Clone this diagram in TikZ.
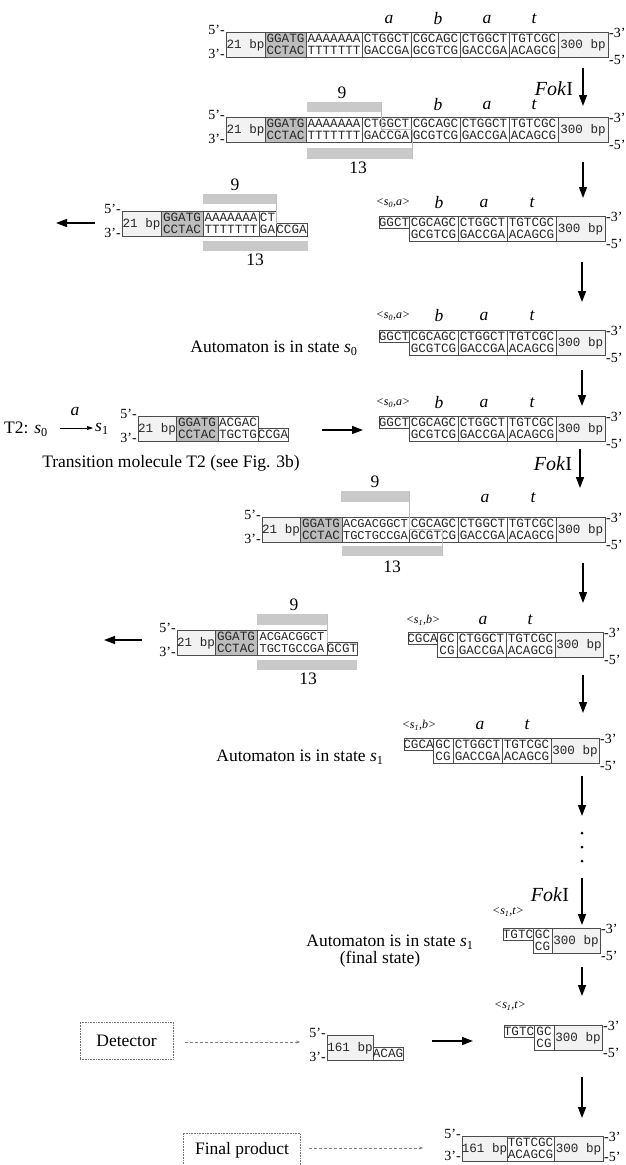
\documentclass[tikz,border=0pt]{standalone}
\usepackage{fontspec}
\setmainfont{Liberation Serif}
\newfontfamily\mono{Liberation Mono}
\usetikzlibrary{arrows.meta}
\definecolor{lg}{gray}{0.95}
\definecolor{dg}{gray}{0.74}
\definecolor{barc}{gray}{0.79}
\tikzset{
 cellb/.style={draw=black!70, line width=0.6pt},
 seq/.style={font=\mono\fontsize{12.6}{12}\selectfont, inner sep=0pt, anchor=base, text=black!85},
 seqs/.style={font=\mono\fontsize{12}{12}\selectfont, inner sep=0pt, anchor=base, text=black!85},
 lab/.style={font=\fontsize{17.5}{19}\selectfont, inner sep=0pt},
 sym/.style={font=\itshape\fontsize{17.5}{19}\selectfont, inner sep=0pt},
 stl/.style={font=\itshape\fontsize{12}{12}\selectfont, inner sep=0pt},
 endl/.style={font=\fontsize{14}{14}\selectfont, inner sep=0pt},
 fokl/.style={font=\fontsize{20}{22}\selectfont, inner sep=0pt},
 bigarr/.style={line width=1.5pt, -{Triangle[length=11pt,width=8pt]}},
 dotarr/.style={black!50, line width=0.5pt, densely dashed, -{Stealth[length=4pt,width=3pt]}},
 barf/.style={fill=barc, draw=none},
 thinl/.style={draw=black!25, line width=0.5pt},
 dbox/.style={draw=black!55, densely dotted, line width=0.6pt}
}
\newcommand\dc[6]{%
 \draw[cellb,fill=#4] (#1,#3) rectangle (#2,#3+25);
 \node[seq] at ({(#1+#2)/2},#3+10.5) {#5};
 \node[seq] at ({(#1+#2)/2},#3+22.5) {#6};}
\newcommand\dcs[6]{%
 \draw[cellb,fill=#4] (#1,#3) rectangle (#2,#3+25);
 \node[seqs] at ({(#1+#2)/2},#3+10.5) {#5};
 \node[seqs] at ({(#1+#2)/2},#3+22.5) {#6};}
\newcommand\bc[4]{%
 \draw[cellb,fill=lg] (#1,#3) rectangle (#2,#3+25);
 \node[seq] at ({(#1+#2)/2},#3+16.5) {#4};}
\newcommand\tc[4]{%
 \draw[cellb,fill=white] (#1,#3) rectangle (#2,#3+12.5);
 \node[seq] at ({(#1+#2)/2},#3+10.5) {#4};}
\newcommand\bhc[4]{%
 \draw[cellb,fill=white] (#1,#3+12.5) rectangle (#2,#3+25);
 \node[seq] at ({(#1+#2)/2},#3+22.5) {#4};}
\newcommand\lends[2]{% x y(top)
 \node[endl,anchor=east] at (#1-1,#2-2) {5'-};
 \node[endl,anchor=east] at (#1-1,#2+22) {3'-};}
\newcommand\rends[2]{%
 \node[endl,anchor=west] at (#1+1,#2+1) {-3'};
 \node[endl,anchor=west] at (#1+1,#2+28) {-5'};}
\newcommand\stt[2]{\textit{#1}\textsubscript{#2}}
\newcommand\fok{\textit{Fok}I}
\begin{document}
\begin{tikzpicture}[x=1pt,y=-1pt]
\clip (0,0) rectangle (626,1165);
\fill[white] (0,0) rectangle (626,1165);

% ---------- Row 1
\bc{226}{265}{32}{21 bp}
\dc{265}{306}{32}{dg}{GGATG}{CCTAC}
\dc{306}{362}{32}{white}{AAAAAAA}{TTTTTTT}
\dc{362}{411}{32}{white}{CTGGCT}{GACCGA}
\dc{411}{460}{32}{white}{CGCAGC}{GCGTCG}
\dc{460}{509}{32}{white}{CTGGCT}{GACCGA}
\dc{509}{558}{32}{white}{TGTCGC}{ACAGCG}
\bc{558}{608}{32}{300 bp}
\lends{226}{32}\rends{608}{32}
\node[sym] (r1a) at (389,19) {a};
\node[sym] (r1b) at (438,19) {b};
\node[sym] (r1c) at (487,19) {a};
\node[sym] (r1t) at (534,19) {t};

% arrow 1 FokI
\coordinate (a1s) at (583,68); \coordinate (a1e) at (583,106);
\draw[bigarr] (a1s) -- (a1e);
\node[fokl] (f1) at (554,89) {\fok};

% ---------- Row 2
\fill[barf] (307,102) rectangle (381,112);
\fill[barf] (307,148) rectangle (412,159);
\bc{226}{265}{117}{21 bp}
\dc{265}{306}{117}{dg}{GGATG}{CCTAC}
\dc{306}{362}{117}{white}{AAAAAAA}{TTTTTTT}
\dc{362}{411}{117}{white}{CTGGCT}{GACCGA}
\dc{411}{460}{117}{white}{CGCAGC}{GCGTCG}
\dc{460}{509}{117}{white}{CTGGCT}{GACCGA}
\dc{509}{558}{117}{white}{TGTCGC}{ACAGCG}
\bc{558}{608}{117}{300 bp}
\draw[thinl] (381,102) -- (381,129.5) -- (412,129.5) -- (412,159);
\lends{226}{117}\rends{608}{117}
\node[lab] (n9a) at (342,93) {9};
\node[lab] (n13a) at (358,168) {13};
\node[sym] (r2b) at (438,105) {b};
\node[sym] (r2a) at (487,105) {a};
\node[sym] (r2t) at (534,105) {t};

% arrow 2
\coordinate (a2s) at (583,162); \coordinate (a2e) at (583,198);
\draw[bigarr] (a2s) -- (a2e);

% ---------- Row 3 left
\fill[barf] (203,194) rectangle (276,204);
\fill[barf] (203,241) rectangle (308,251);
\bc{122}{161}{211}{21 bp}
\dc{161}{203}{211}{dg}{GGATG}{CCTAC}
\dc{203}{259}{211}{white}{AAAAAAA}{TTTTTTT}
\dc{259}{276}{211}{white}{CT}{GA}
\bhc{276}{307}{211}{CCGA}
\draw[thinl] (276,194) -- (276,223.5);
\lends{122}{211}
\node[lab] (n9b) at (235,185) {9};
\node[lab] (n13b) at (255,260) {13};
\coordinate (l1s) at (95,223); \coordinate (l1e) at (56,223);
\draw[bigarr] (l1s) -- (l1e);

% ---------- Row 3 right
\tc{379}{409}{216}{GGCT}
\dc{409}{458}{216}{white}{CGCAGC}{GCGTCG}
\dc{458}{507}{216}{white}{CTGGCT}{GACCGA}
\dc{507}{556}{216}{white}{TGTCGC}{ACAGCG}
\bc{556}{605}{216}{300 bp}
\rends{605}{216}
\node[stl] (r3s) at (393,203) {<\stt{s}{0},\textit{a}>};
\node[sym] (r3b) at (439,203) {b};
\node[sym] (r3a) at (484,203) {a};
\node[sym] (r3t) at (532,203) {t};

% arrow 3
\coordinate (a3s) at (582,262); \coordinate (a3e) at (582,302);
\draw[bigarr] (a3s) -- (a3e);

% ---------- Row 4
\tc{379}{409}{330}{GGCT}
\dc{409}{458}{330}{white}{CGCAGC}{GCGTCG}
\dc{458}{507}{330}{white}{CTGGCT}{GACCGA}
\dc{507}{556}{330}{white}{TGTCGC}{ACAGCG}
\bc{556}{605}{330}{300 bp}
\rends{605}{330}
\node[stl] (r4s) at (393,316) {<\stt{s}{0},\textit{a}>};
\node[sym] (r4b) at (439,316) {b};
\node[sym] (r4a) at (484,316) {a};
\node[sym] (r4t) at (532,316) {t};
\node[lab] (aut0) at (274,348) {Automaton is in state \stt{s}{0}};

% arrow 4
\coordinate (a4s) at (582,370); \coordinate (a4e) at (582,406);
\draw[bigarr] (a4s) -- (a4e);

% ---------- Row 5 : T2
\node[lab,anchor=west] (t2) at (4,429) {T2: \stt{s}{0}};
\coordinate (t2as) at (60,428); \coordinate (t2ae) at (93,428);
\draw[line width=0.6pt, -{Triangle[length=6pt,width=4pt]}] (t2as) -- (t2ae);
\node[sym] (t2a) at (75,411) {a};
\node[lab,anchor=west] (t2s1) at (95,429) {\stt{s}{1}};
\bc{138}{176}{416}{21 bp}
\dc{176}{218}{416}{dg}{GGATG}{CCTAC}
\dc{218}{258}{416}{white}{ACGAC}{TGCTG}
\bhc{258}{288}{416}{CCGA}
\lends{138}{416}
\node[lab] (tm) at (171,463) {Transition molecule T2 (see Fig. 3b)};
\coordinate (r1s) at (322,430); \coordinate (r1e) at (363,430);
\draw[bigarr] (r1s) -- (r1e);

\tc{379}{409}{416}{GGCT}
\dc{409}{458}{416}{white}{CGCAGC}{GCGTCG}
\dc{458}{507}{416}{white}{CTGGCT}{GACCGA}
\dc{507}{556}{416}{white}{TGTCGC}{ACAGCG}
\bc{556}{605}{416}{300 bp}
\rends{605}{416}
\node[stl] (r5s) at (393,403) {<\stt{s}{0},\textit{a}>};
\node[sym] (r5b) at (439,403) {b};
\node[sym] (r5a) at (484,403) {a};
\node[sym] (r5t) at (532,403) {t};

% arrow 5 FokI
\coordinate (a5s) at (580,449); \coordinate (a5e) at (580,488);
\draw[bigarr] (a5s) -- (a5e);
\node[fokl] (f2) at (553,464) {\fok};

% ---------- Row 6
\fill[barf] (341,491) rectangle (409,502);
\fill[barf] (342,546) rectangle (442,556);
\bc{262}{300}{517}{21 bp}
\dc{300}{342}{517}{dg}{GGATG}{CCTAC}
\dcs{342}{409}{517}{white}{ACGACGGCT}{TGCTGCCGA}
\dc{409}{458}{517}{white}{CGCAGC}{GCGTCG}
\dc{458}{507}{517}{white}{CTGGCT}{GACCGA}
\dc{507}{556}{517}{white}{TGTCGC}{ACAGCG}
\bc{556}{605}{517}{300 bp}
\draw[thinl] (409,491) -- (409,529.5) -- (442,529.5) -- (442,556);
\lends{262}{517}\rends{605}{517}
\node[lab] (n9c) at (375,482) {9};
\node[lab] (n13c) at (392,567) {13};
\node[sym] (r6a) at (485,498) {a};
\node[sym] (r6t) at (533,498) {t};

% arrow 6
\coordinate (a6s) at (583,563); \coordinate (a6e) at (583,603);
\draw[bigarr] (a6s) -- (a6e);

% ---------- Row 7 left
\fill[barf] (257,614) rectangle (327,625);
\fill[barf] (257,660) rectangle (357,670);
\bc{177}{215}{630}{21 bp}
\dc{215}{257}{630}{dg}{GGATG}{CCTAC}
\dcs{257}{327}{630}{white}{ACGACGGCT}{TGCTGCCGA}
\bhc{327}{357}{630}{GCGT}
\draw[thinl] (327,614) -- (327,642.5);
\lends{177}{630}
\node[lab] (n9d) at (294,605) {9};
\node[lab] (n13d) at (308,679) {13};
\coordinate (l2s) at (142,640); \coordinate (l2e) at (104,640);
\draw[bigarr] (l2s) -- (l2e);

% ---------- Row 7 right
\tc{408}{437}{632}{CGCA}
\dc{437}{457}{632}{white}{GC}{CG}
\dc{457}{506}{632}{white}{CTGGCT}{GACCGA}
\dc{506}{555}{632}{white}{TGTCGC}{ACAGCG}
\bc{555}{603}{632}{300 bp}
\rends{603}{632}
\node[stl] (r7s) at (423,620) {<\stt{s}{1},\textit{b}>};
\node[sym] (r7a) at (483,620) {a};
\node[sym] (r7t) at (530,620) {t};

% arrow 7
\coordinate (a7s) at (583,675); \coordinate (a7e) at (583,713);
\draw[bigarr] (a7s) -- (a7e);

% ---------- Row 8
\tc{404}{433}{738}{CGCA}
\dc{433}{453}{738}{white}{GC}{CG}
\dc{453}{502}{738}{white}{CTGGCT}{GACCGA}
\dc{502}{551}{738}{white}{TGTCGC}{ACAGCG}
\bc{551}{599}{738}{300 bp}
\rends{599}{738}
\node[stl] (r8s) at (419,725) {<\stt{s}{1},\textit{b}>};
\node[sym] (r8a) at (480,725) {a};
\node[sym] (r8t) at (527,725) {t};
\node[lab] (aut1) at (300,757) {Automaton is in state \stt{s}{1}};

% arrow 8 + dots
\coordinate (a8s) at (582,776); \coordinate (a8e) at (582,816);
\draw[bigarr] (a8s) -- (a8e);
\fill (582,833) circle (1.5) (582,847) circle (1.5) (582,861) circle (1.5);

% arrow 9 FokI
\coordinate (a9s) at (582,878); \coordinate (a9e) at (582,925);
\draw[bigarr] (a9s) -- (a9e);
\node[fokl] (f3) at (550,895) {\fok};

% ---------- Row 9
\tc{503}{533}{928}{TGTC}
\dc{533}{552}{928}{white}{GC}{CG}
\bc{552}{600}{928}{300 bp}
\rends{600}{928}
\node[stl] (r9s) at (508,912) {<\stt{s}{1},\textit{t}>};
\node[lab] (aut2) at (390,942) {Automaton is in state \stt{s}{1}};
\node[lab] (fin) at (380,959) {(final state)};

% arrow 10
\coordinate (a10s) at (582,967); \coordinate (a10e) at (582,996);
\draw[bigarr] (a10s) -- (a10e);

% ---------- Row 10
\tc{504}{534}{1025}{TGTC}
\dc{534}{554}{1025}{white}{GC}{CG}
\bc{554}{602}{1025}{300 bp}
\rends{602}{1025}
\node[stl] (r10s) at (510,1006) {<\stt{s}{1},\textit{t}>};

\node[dbox, minimum width=93pt, minimum height=37pt, lab] (det) at (126.5,1040.5) {Detector};
\coordinate (d1e) at (300,1042);
\draw[dotarr] (det.east) ++(12,1.5) coordinate (d1s) -- (d1e);
\draw[cellb,fill=lg] (327,1035) rectangle (373,1060);
\node[seq] (d161) at (350,1051.5) {161 bp};
\bhc{373}{403}{1035}{ACAG}
\lends{327}{1035}
\coordinate (r2s) at (432,1041); \coordinate (r2e) at (473,1041);
\draw[bigarr] (r2s) -- (r2e);

% arrow 11
\coordinate (a11s) at (582,1077); \coordinate (a11e) at (582,1118);
\draw[bigarr] (a11s) -- (a11e);

% ---------- Row 11
\bc{462}{507}{1136}{161 bp}
\dc{507}{554}{1136}{white}{TGTCGC}{ACAGCG}
\bc{554}{603}{1136}{300 bp}
\node[endl,anchor=east] at (461,1134) {5'-};
\node[endl,anchor=east] at (461,1156) {3'-};
\node[endl,anchor=west] at (604,1137) {-3'};
\node[endl,anchor=west] at (604,1157) {-5'};
\draw[dbox] (183,1175) -- (183,1133) -- (300,1133) -- (300,1175);
\node[lab] (fp) at (242,1150) {Final product};
\coordinate (d2s) at (309,1148); \coordinate (d2e) at (423,1148);
\draw[dotarr] (d2s) -- (d2e);
\end{tikzpicture}
\end{document}
